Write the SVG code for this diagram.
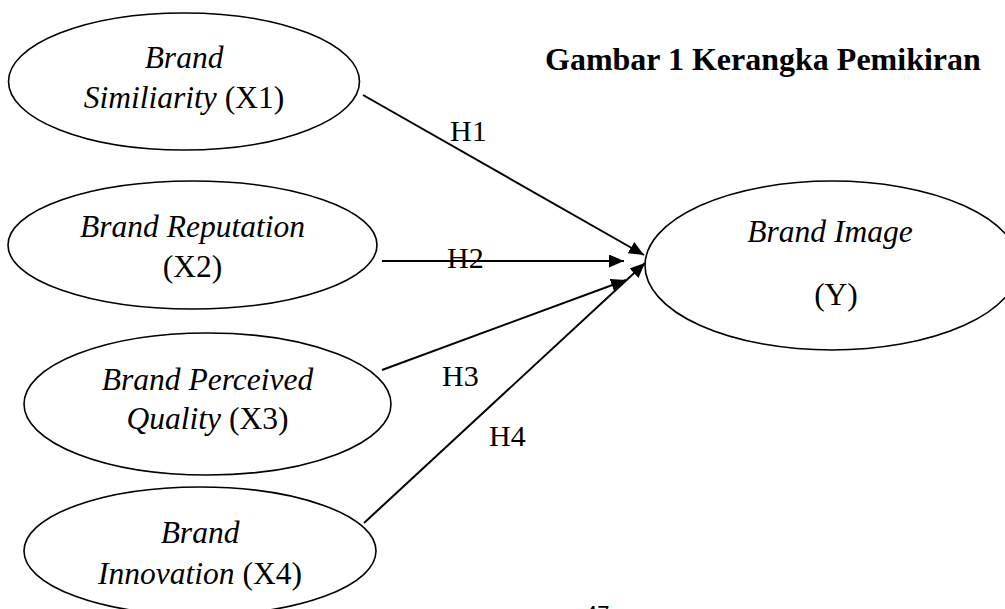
<svg xmlns="http://www.w3.org/2000/svg" width="1005" height="609" viewBox="0 0 1005 609">
<style>
.node ellipse{fill:#fff;stroke:#000;stroke-width:1.6}
.lbl{font-family:"Liberation Serif","Times New Roman",serif;font-size:31.5px;fill:#000;text-anchor:middle}
.it{font-style:italic}
.h{font-family:"Liberation Serif","Times New Roman",serif;font-size:30px;fill:#000}
.edge{stroke:#000;stroke-width:2;fill:none;marker-end:url(#arr)}
</style>
<defs>
<marker id="arr" markerUnits="userSpaceOnUse" markerWidth="16" markerHeight="14" refX="15" refY="6.5" orient="auto">
<path d="M0,0 L15,6.5 L0,13 z" fill="#000"/>
</marker>
</defs>
<rect width="1005" height="609" fill="#fff"/>
<text x="545" y="70" font-family="'Liberation Serif','Times New Roman',serif" font-size="32" font-weight="bold">Gambar 1 Kerangka Pemikiran</text>
<g id="connectors">
<line class="edge" x1="363" y1="95" x2="644" y2="255"/>
<line class="edge" x1="382" y1="261" x2="624" y2="261"/>
<line class="edge" x1="382" y1="370" x2="626" y2="280"/>
<line class="edge" x1="364" y1="523" x2="645" y2="263"/>
<text class="h" x="450" y="141">H1</text>
<text class="h" x="447" y="268">H2</text>
<text class="h" x="442" y="386">H3</text>
<text class="h" x="489" y="446" font-size="31">H4</text>
</g>
<g id="x1" class="node">
<ellipse cx="184" cy="81.5" rx="175.5" ry="68.5"/>
<text class="lbl" x="184" y="68"><tspan class="it">Brand</tspan></text>
<text class="lbl" x="184" y="108"><tspan class="it">Similiarity</tspan> (X1)</text>
</g>
<g id="x2" class="node">
<ellipse cx="192.5" cy="245" rx="184.5" ry="64"/>
<text class="lbl it" x="192.5" y="237">Brand Reputation</text>
<text class="lbl" x="192.5" y="277">(X2)</text>
</g>
<g id="x3" class="node">
<ellipse cx="207.5" cy="404" rx="183.5" ry="71"/>
<text class="lbl it" x="207.5" y="390">Brand Perceived</text>
<text class="lbl" x="207.5" y="429"><tspan class="it">Quality</tspan> (X3)</text>
</g>
<g id="x4" class="node">
<ellipse cx="200" cy="551" rx="176" ry="64"/>
<text class="lbl it" x="200" y="543">Brand</text>
<text class="lbl" x="200" y="584"><tspan class="it">Innovation</tspan> (X4)</text>
</g>
<g id="y" class="node">
<ellipse cx="832" cy="265.5" rx="187" ry="84.5"/>
<text class="lbl it" x="830" y="242">Brand Image</text>
<text class="lbl" x="836" y="305">(Y)</text>
</g>
<text x="585" y="621" font-family="'Liberation Sans',Arial,sans-serif" font-size="22" fill="#000">47</text>
</svg>
